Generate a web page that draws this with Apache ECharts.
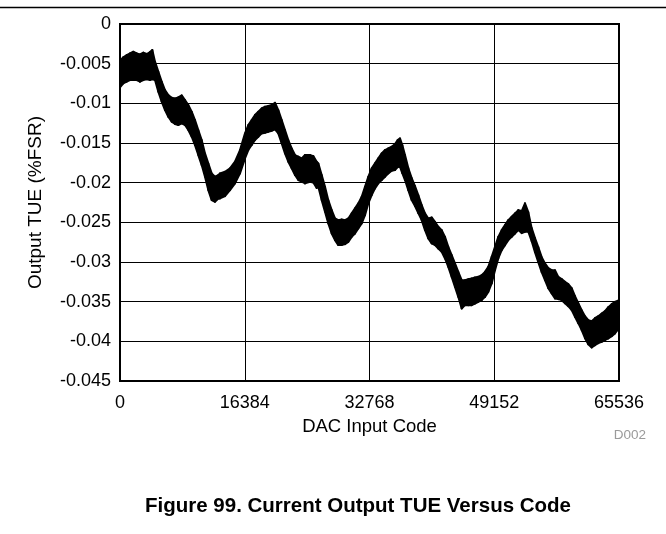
<!DOCTYPE html>
<html>
<head>
<meta charset="utf-8">
<script src="https://cdn.jsdelivr.net/npm/echarts@6/dist/echarts.min.js"></script>
<style>
  html, body { margin: 0; padding: 0; background: #fff; }
  #chart { width: 666px; height: 534px; }
</style>
</head>
<body>
<div id="chart"></div>
<script>
// DAC input codes at which the TUE envelope was sampled
const codes = [
  0, 433, 880, 1313, 1747, 2193, 2626, 3060, 3507, 3940, 4242, 4597, 5030, 5476, 5910, 6343,
  6790, 7223, 7656, 8103, 8536, 8970, 9416, 9850, 10283, 10729, 11163, 11596, 12043, 12476, 12910,
  13133, 13790, 14446, 15103, 15760, 16416, 16850, 17296, 17729, 18163, 18609, 19043, 19476, 19923,
  20356, 20790, 21236, 21669, 22103, 22550, 22983, 23416, 23863, 24296, 24953, 25386, 25833,
  26043, 26490, 26923, 27356, 27803, 28236, 28670, 29116, 29549, 29983, 30429, 30863, 31296, 31743,
  32176, 32609, 33056, 33489, 33923, 34369, 34802, 35236, 35683, 36116, 36470, 36772, 37075, 37429,
  37862, 38309, 38742, 39176,
  39622, 40056, 40489, 40936, 41369, 41802, 42249, 42682, 43116, 43562, 43996, 44429, 44876, 45309,
  45742, 46189, 46622, 47056, 47502, 47936, 48369, 48816, 49249, 49682, 50129, 50562, 50996, 51442,
  51875, 52309,
  52756, 53189, 53622, 54069, 54502, 54936, 55382, 55815, 56249, 56696, 57129, 57562, 58009, 58442,
  58876, 59322, 59755, 60189, 60636, 61069, 61502, 61949, 62382, 62816, 63262, 63695, 64129, 64576,
  65009, 65535
];

// Upper edge of the measured TUE band (%FSR)
const tueMax = [
  -0.00462, -0.00420, -0.00391, -0.00370, -0.00349, -0.00370, -0.00383, -0.00361, -0.00378, -0.00353,
  -0.00328, -0.00475, -0.00601, -0.00727, -0.00832, -0.00895, -0.00929, -0.00938, -0.00925, -0.00900,
  -0.00959, -0.01022, -0.01106, -0.01211, -0.01337, -0.01463, -0.01631, -0.01757, -0.01883, -0.01925,
  -0.01904,
  -0.01883, -0.01862, -0.01820, -0.01736, -0.01589, -0.01379, -0.01274, -0.01211, -0.01148, -0.01106,
  -0.01064, -0.01043, -0.01034, -0.01022, -0.00992, -0.01085, -0.01211, -0.01337, -0.01463, -0.01568,
  -0.01652, -0.01673, -0.01694, -0.01652, -0.01652, -0.01665, -0.01736,
  -0.01757, -0.01904, -0.02052, -0.02220, -0.02346, -0.02451, -0.02472, -0.02463, -0.02472, -0.02451,
  -0.02387, -0.02324, -0.02261, -0.02178, -0.02052, -0.01926, -0.01820, -0.01757, -0.01694, -0.01631,
  -0.01589, -0.01568, -0.01547, -0.01513, -0.01463, -0.01442, -0.01526, -0.01652, -0.01816, -0.01942,
  -0.02043, -0.02157,
  -0.02283, -0.02387, -0.02451, -0.02438, -0.02493, -0.02556, -0.02598, -0.02683, -0.02809, -0.02913,
  -0.03018, -0.03124, -0.03229, -0.03229, -0.03216, -0.03207, -0.03195, -0.03187, -0.03166, -0.03124,
  -0.03061, -0.02935, -0.02809, -0.02683, -0.02598, -0.02535, -0.02472, -0.02430, -0.02387, -0.02346,
  -0.02358, -0.02261, -0.02371, -0.02573, -0.02699, -0.02812, -0.02939, -0.03018, -0.03077, -0.03103,
  -0.03103, -0.03187, -0.03216, -0.03250, -0.03279, -0.03330, -0.03430, -0.03519, -0.03607, -0.03683,
  -0.03733, -0.03746, -0.03708, -0.03683, -0.03649, -0.03620, -0.03569, -0.03531, -0.03502, -0.03481
];

// Lower edge of the measured TUE band (%FSR)
const tueMin = [
  -0.00799, -0.00748, -0.00727, -0.00706, -0.00706, -0.00706, -0.00727, -0.00706, -0.00698, -0.00706,
  -0.00698, -0.00706, -0.00853, -0.00980, -0.01085, -0.01169, -0.01232, -0.01261, -0.01274, -0.01253,
  -0.01274, -0.01337, -0.01421, -0.01526, -0.01652, -0.01778, -0.01925, -0.02094, -0.02220, -0.02241,
  -0.02199,
  -0.02199, -0.02169, -0.02094, -0.02009, -0.01883, -0.01694, -0.01589, -0.01526, -0.01463, -0.01421,
  -0.01379, -0.01370, -0.01358, -0.01345, -0.01328, -0.01379, -0.01505, -0.01631, -0.01736, -0.01820,
  -0.01904, -0.01967, -0.01988, -0.02009, -0.01988, -0.01999, -0.02068,
  -0.02052, -0.02220, -0.02367, -0.02514, -0.02640, -0.02724, -0.02787, -0.02787, -0.02775, -0.02746,
  -0.02683, -0.02640, -0.02577, -0.02514, -0.02409, -0.02261, -0.02157, -0.02072, -0.02009, -0.01967,
  -0.01926, -0.01883, -0.01850, -0.01841, -0.01804, -0.01800, -0.01879, -0.01967, -0.02094, -0.02220,
  -0.02295, -0.02384,
  -0.02472, -0.02598, -0.02703, -0.02766, -0.02787, -0.02829, -0.02872, -0.02955, -0.03061, -0.03187,
  -0.03313, -0.03439, -0.03586, -0.03544, -0.03544, -0.03544, -0.03523, -0.03502, -0.03481, -0.03439,
  -0.03376, -0.03270, -0.03103, -0.02955, -0.02850, -0.02787, -0.02724, -0.02683, -0.02640, -0.02598,
  -0.02636, -0.02619, -0.02619, -0.02737, -0.02876, -0.03002, -0.03128, -0.03229, -0.03330, -0.03396,
  -0.03459, -0.03468, -0.03481, -0.03519, -0.03557, -0.03607, -0.03692, -0.03771, -0.03859, -0.03960,
  -0.04036, -0.04077, -0.04048, -0.04023, -0.04007, -0.03985, -0.03964, -0.03935, -0.03901, -0.03834
];

// Axis ticks
const xTicks = [0, 16384, 32768, 49152, 65536];
const yTickLabels = ['0', '-0.005', '-0.01', '-0.015', '-0.02', '-0.025', '-0.03', '-0.035', '-0.04', '-0.045'];

const FONT = '"Liberation Sans", Arial, Helvetica, sans-serif';

// Each item is one slice of the min/max envelope between two neighbouring codes
const bandSegments = codes.slice(0, -1).map((c, i) => [
  c, tueMax[i], tueMin[i], codes[i + 1], tueMax[i + 1], tueMin[i + 1]
]);

function renderBand(params, api) {
  const a = api.coord([api.value(0), api.value(1)]);
  const b = api.coord([api.value(3), api.value(4)]);
  const c = api.coord([api.value(3), api.value(5)]);
  const d = api.coord([api.value(0), api.value(2)]);
  return {
    type: 'polygon',
    shape: { points: [a, b, c, d] },
    style: { fill: '#000', stroke: '#000', lineWidth: 2, lineJoin: 'round' }
  };
}

const chart = echarts.init(document.getElementById('chart'), null, { renderer: 'canvas' });

chart.setOption({
  animation: false,
  backgroundColor: '#fff',
  textStyle: { fontFamily: FONT },
  title: {
    text: 'Figure 99. Current Output TUE Versus Code',
    left: 145,
    top: 496,
    padding: 0,
    textStyle: { fontFamily: FONT, fontSize: 20.5, fontWeight: 'bold', color: '#000' }
  },
  graphic: [
    {
      type: 'line',
      shape: { x1: 0, y1: 7.5, x2: 666, y2: 7.5 },
      style: { stroke: '#000', lineWidth: 1.5 },
      silent: true
    },
    {
      type: 'text',
      right: 20,
      top: 428,
      style: { text: 'D002', fill: '#9a9a9a', font: '13.5px ' + FONT }
    }
  ],
  grid: {
    left: 120,
    top: 24,
    width: 499,
    height: 357,
    show: true,
    borderColor: '#000',
    borderWidth: 2,
    backgroundColor: 'transparent'
  },
  xAxis: {
    type: 'value',
    min: 0,
    max: 65536,
    interval: 16384,
    name: 'DAC Input Code',
    nameLocation: 'middle',
    nameGap: 36,
    nameTextStyle: { fontFamily: FONT, fontSize: 18.5, color: '#000' },
    axisLine: { show: true, lineStyle: { color: '#000', width: 2 } },
    axisTick: { show: false },
    axisLabel: {
      fontFamily: FONT, fontSize: 18, color: '#000', margin: 13,
      formatter: v => (xTicks.indexOf(v) >= 0 ? String(v) : '')
    },
    splitLine: { show: true, lineStyle: { color: '#000', width: 1 } }
  },
  yAxis: {
    type: 'value',
    min: -0.045,
    max: 0,
    interval: 0.005,
    name: 'Output TUE (%FSR)',
    nameLocation: 'middle',
    nameGap: 75,
    nameRotate: 90,
    nameTextStyle: { fontFamily: FONT, fontSize: 19, color: '#000' },
    axisLine: { show: true, lineStyle: { color: '#000', width: 2 } },
    axisTick: { show: false },
    axisLabel: {
      fontFamily: FONT, fontSize: 18, color: '#000', margin: 9,
      formatter: v => yTickLabels[Math.round(-v / 0.005)]
    },
    splitLine: { show: true, lineStyle: { color: '#000', width: 1 } }
  },
  series: [
    {
      name: 'TUE',
      type: 'custom',
      renderItem: renderBand,
      data: bandSegments,
      encode: { x: [0, 3], y: [1, 2, 4, 5] },
      clip: true,
      z: 3
    }
  ]
});
</script>
</body>
</html>
